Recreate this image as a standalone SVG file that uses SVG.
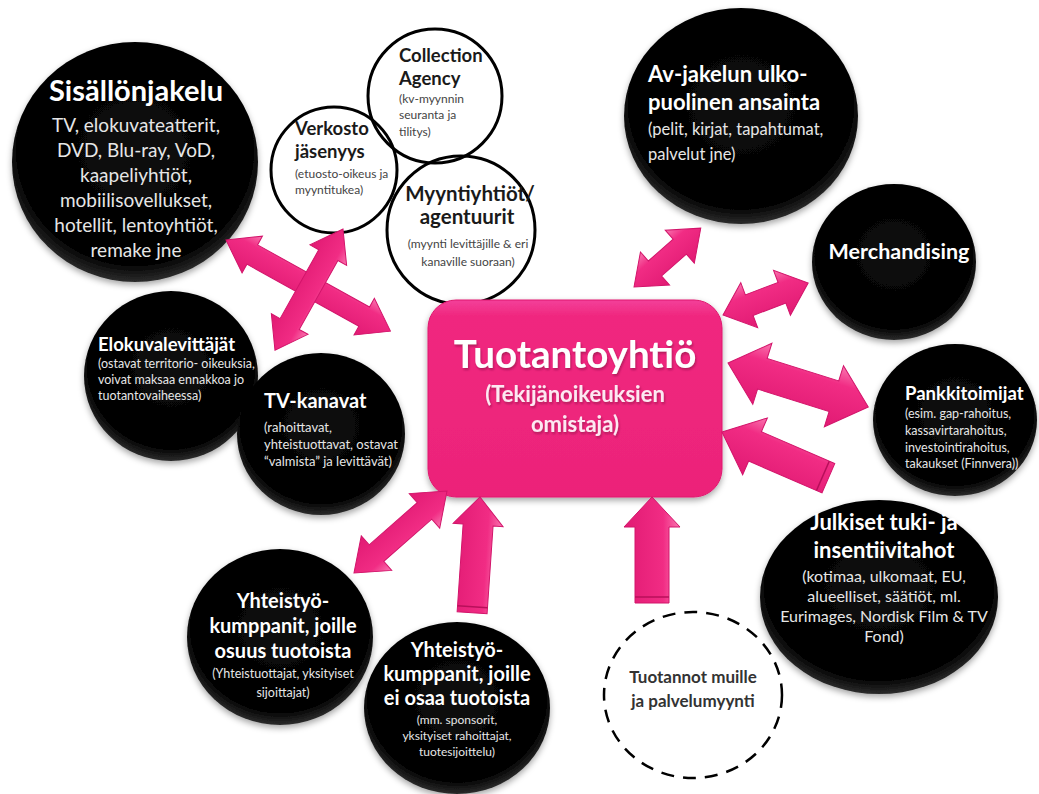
<svg xmlns="http://www.w3.org/2000/svg" width="1039" height="794" viewBox="0 0 1039 794">
<defs>
<style>
text{font-family:Lato,"Open Sans","Liberation Sans",sans-serif}
.bk{fill:url(#bkg);filter:url(#sh)}
.wc{fill:none;stroke:#000;stroke-width:3}
.t{fill:#fff;font-weight:700}
.s{fill:#e6e6e6;font-weight:400}
.dt{fill:#1a1a1a;font-weight:700}
.ds{fill:#444;font-weight:400}
.m{text-anchor:middle}
.arr{fill:url(#pg);stroke:#d2146a;stroke-width:1}
.tail{stroke:#b80f5a;stroke-width:1.5}
</style>
<radialGradient id="bkg" cx="50%" cy="45%" r="55%">
<stop offset="0" stop-color="#0c0c0c"/>
<stop offset="0.86" stop-color="#000"/>
<stop offset="1" stop-color="#2c2c2c"/>
</radialGradient>
<linearGradient id="pg" x1="0" y1="0" x2="0" y2="1">
<stop offset="0" stop-color="#f977b0"/>
<stop offset="0.3" stop-color="#f12c84"/>
<stop offset="1" stop-color="#e11a73"/>
</linearGradient>
<linearGradient id="boxg" x1="0" y1="0" x2="0" y2="1">
<stop offset="0" stop-color="#f3409a"/>
<stop offset="0.08" stop-color="#f0287f"/>
<stop offset="1" stop-color="#ec2379"/>
</linearGradient>
<filter id="sh" x="-20%" y="-20%" width="140%" height="140%">
<feDropShadow dx="0" dy="3" stdDeviation="3" flood-color="#000" flood-opacity="0.35"/>
</filter>
<filter id="tsh" x="-10%" y="-30%" width="120%" height="160%">
<feDropShadow dx="1" dy="2" stdDeviation="1.2" flood-color="#8a0a45" flood-opacity="0.6"/>
</filter>
</defs>
<rect width="1039" height="794" fill="#fff"/>

<g id="n-sisallonjakelu">
<ellipse class="bk" cx="135" cy="162" rx="123" ry="120"/>
<text class="t m" x="136" y="101" font-size="29">Sisällönjakelu</text>
<text class="s m" x="136" font-size="19"><tspan x="136" y="132">TV, elokuvateatterit,</tspan><tspan x="136" y="157">DVD, Blu-ray, VoD,</tspan><tspan x="136" y="182">kaapeliyhtiöt,</tspan><tspan x="136" y="207">mobiilisovellukset,</tspan><tspan x="136" y="232">hotellit, lentoyhtiöt,</tspan><tspan x="136" y="257">remake jne</tspan></text>
</g>

<g id="n-collection">
<circle class="wc" cx="435" cy="96" r="67"/>
<text class="dt" x="399" y="62" font-size="18.5">Collection</text>
<text class="dt" x="399" y="85" font-size="18.5">Agency</text>
<text class="ds" font-size="12"><tspan x="399" y="103">(kv-myynnin</tspan><tspan x="399" y="119">seuranta ja</tspan><tspan x="399" y="136">tilitys)</tspan></text>
</g>

<g id="n-verkosto">
<circle class="wc" cx="334" cy="170" r="63"/>
<text class="dt" x="295" y="135" font-size="18.5">Verkosto</text>
<text class="dt" x="295" y="158" font-size="18.5">jäsenyys</text>
<text class="ds" font-size="12"><tspan x="295" y="178">(etuosto-oikeus ja</tspan><tspan x="295" y="194">myyntitukea)</tspan></text>
</g>

<g id="n-myyntiyhtiot">
<circle class="wc" cx="461" cy="230" r="74" stroke-width="5"/>
<text class="dt m" x="470" y="201" font-size="20.5">Myyntiyhtiöt/</text>
<text class="dt m" x="467" y="224" font-size="20.5">agentuurit</text>
<text class="ds m" font-size="12"><tspan x="468" y="248">(myynti levittäjille &amp; eri</tspan><tspan x="468" y="266">kanaville suoraan)</tspan></text>
</g>

<g id="n-avjakelu">
<ellipse class="bk" cx="741" cy="116" rx="117" ry="108"/>
<text class="t" x="648" y="82" font-size="22">Av-jakelun ulko-</text>
<text class="t" x="648" y="110" font-size="22">puolinen ansainta</text>
<text class="s" font-size="16.5"><tspan x="648" y="135">(pelit, kirjat, tapahtumat,</tspan><tspan x="648" y="160">palvelut jne)</tspan></text>
</g>

<g id="n-merchandising">
<ellipse class="bk" cx="894" cy="262" rx="82" ry="78"/>
<text class="t m" x="899" y="259" font-size="21.5">Merchandising</text>
</g>

<g id="n-pankkitoimijat">
<ellipse class="bk" cx="955" cy="420" rx="82" ry="76"/>
<text class="t" x="905" y="400" font-size="18.5">Pankkitoimijat</text>
<text class="s" font-size="12.5"><tspan x="905" y="418">(esim. gap-rahoitus,</tspan><tspan x="905" y="435">kassavirtarahoitus,</tspan><tspan x="905" y="452">investointirahoitus,</tspan><tspan x="905" y="468">takaukset (Finnvera))</tspan></text>
</g>

<g id="n-julkiset">
<ellipse class="bk" cx="879" cy="597" rx="119" ry="97"/>
<text class="t m" x="884" y="530" font-size="22">Julkiset tuki- ja</text>
<text class="t m" x="884" y="558" font-size="22">insentiivitahot</text>
<text class="s m" font-size="16"><tspan x="884" y="582">(kotimaa, ulkomaat, EU,</tspan><tspan x="884" y="602">alueelliset, säätiöt, ml.</tspan><tspan x="884" y="622">Eurimages, Nordisk Film &amp; TV</tspan><tspan x="884" y="642">Fond)</tspan></text>
</g>

<g id="n-tuotannot">
<ellipse cx="693" cy="695" rx="89" ry="83" fill="none" stroke="#000" stroke-width="2.5" stroke-dasharray="13 9"/>
<text class="m" x="693" y="683" font-size="17" font-weight="700" fill="#333">Tuotannot muille</text>
<text class="m" x="693" y="707" font-size="17" font-weight="700" fill="#333">ja palvelumyynti</text>
</g>

<g id="n-elokuvalevittajat">
<ellipse class="bk" cx="171" cy="376" rx="87" ry="85"/>
<text class="t" x="98" y="351" font-size="18.5">Elokuvalevittäjät</text>
<text class="s" font-size="12.5"><tspan x="98" y="368">(ostavat territorio- oikeuksia,</tspan><tspan x="98" y="384">voivat maksaa ennakkoa jo</tspan><tspan x="98" y="400">tuotantovaiheessa)</tspan></text>
</g>

<g id="n-tvkanavat">
<ellipse class="bk" cx="321" cy="434" rx="84" ry="81"/>
<text class="t" x="264" y="408" font-size="20">TV-kanavat</text>
<text class="s" font-size="13"><tspan x="264" y="432">(rahoittavat,</tspan><tspan x="264" y="449">yhteistuottavat, ostavat</tspan><tspan x="264" y="466">“valmista” ja levittävät)</tspan></text>
</g>

<g id="n-yhteistyo-osuus">
<ellipse class="bk" cx="280" cy="637" rx="93" ry="88"/>
<text class="t m" font-size="20"><tspan x="283" y="608">Yhteistyö-</tspan><tspan x="283" y="633">kumppanit, joille</tspan><tspan x="283" y="658">osuus tuotoista</tspan></text>
<text class="s m" font-size="12.5"><tspan x="283" y="678">(Yhteistuottajat, yksityiset</tspan><tspan x="283" y="697">sijoittajat)</tspan></text>
</g>

<g id="n-yhteistyo-ei">
<ellipse class="bk" cx="457" cy="708" rx="93" ry="86"/>
<text class="t m" font-size="20"><tspan x="457" y="657">Yhteistyö-</tspan><tspan x="457" y="681">kumppanit, joille</tspan><tspan x="457" y="705">ei osaa tuotoista</tspan></text>
<text class="s m" font-size="12"><tspan x="457" y="724">(mm. sponsorit,</tspan><tspan x="457" y="740">yksityiset rahoittajat,</tspan><tspan x="457" y="756">tuotesijoittelu)</tspan></text>
</g>

<g id="n-tuotantoyhtio">
<rect x="428" y="300" width="294" height="197" rx="28" fill="url(#boxg)" stroke="#e0186f" stroke-width="1" filter="url(#sh)"/>
<g filter="url(#tsh)">
<text class="m" x="575" y="368" font-size="38.5" font-weight="700" fill="#fff">Tuotantoyhtiö</text>
<text class="m" x="575" y="402" font-size="22" font-weight="700" fill="#fde8f2">(Tekijänoikeuksien</text>
<text class="m" x="575" y="432" font-size="22" font-weight="700" fill="#fde8f2">omistaja)</text>
</g>
</g>

<g id="connectors">
<polygon class="arr" transform="translate(226,240) rotate(29)" points="0,0 30,-21 30,-11 158,-11 158,-21 188,0 158,21 158,11 30,11 30,21"/>
<polygon class="arr" transform="translate(343,229) rotate(119.3)" points="0,0 30,-21 30,-11 109,-11 109,-21 139,0 109,21 109,11 30,11 30,21"/>
<polygon class="arr" transform="translate(634,287) rotate(-41.4)" points="0,0 28,-22 28,-10 61,-10 61,-22 89,0 61,22 61,10 28,10 28,22"/>
<polygon class="arr" transform="translate(723,315) rotate(-20.6)" points="0,0 28,-24 28,-11 63,-11 63,-24 91,0 63,24 63,11 28,11 28,24"/>
<polygon class="arr" transform="translate(728,363) rotate(17.4)" points="0,0 36,-32 36,-16 111,-16 111,-32 147,0 111,32 111,16 36,16 36,32"/>
<g transform="translate(722,432) rotate(23.5)">
<polygon class="arr" points="0,0 36,-31 36,-16 116,-16 116,16 36,16 36,31"/>
<line class="tail" x1="110" y1="-16" x2="110" y2="16"/>
</g>
<polygon class="arr" transform="translate(447,491) rotate(138.6)" points="0,0 30,-23 30,-11 94,-11 94,-23 124,0 94,23 94,11 30,11 30,23"/>
<g transform="translate(480,497) rotate(93.9)">
<polygon class="arr" points="0,0 28,-25 28,-15 116,-15 116,15 28,15 28,25"/>
<line class="tail" x1="110" y1="-15" x2="110" y2="15"/>
</g>
<g transform="translate(652,497) rotate(90)">
<polygon class="arr" points="0,0 30,-28 30,-17 106,-17 106,17 30,17 30,28"/>
<line class="tail" x1="100" y1="-17" x2="100" y2="17"/>
</g>
</g>
</svg>
